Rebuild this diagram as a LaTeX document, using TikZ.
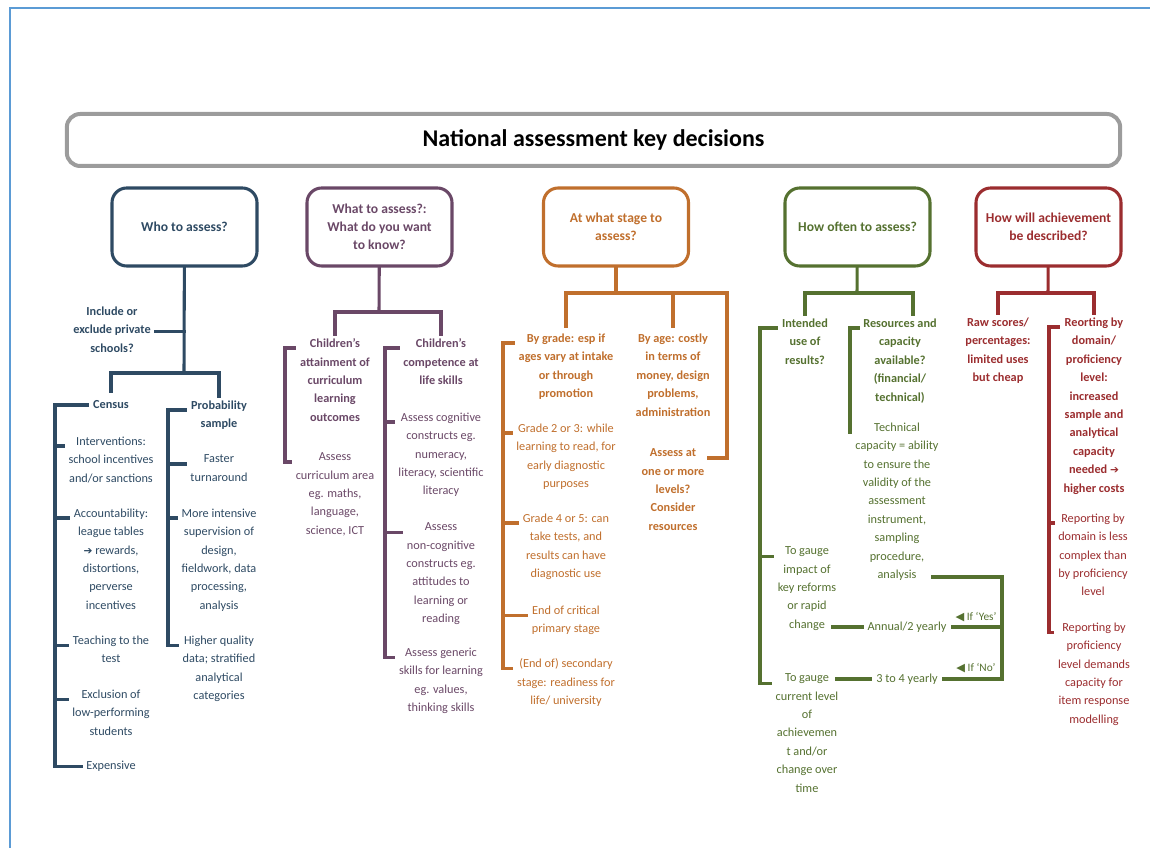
\documentclass[tikz,border=0pt]{standalone}
\usepackage{fontspec}
\setmainfont{Carlito}
\newfontfamily\symfont{DejaVu Sans}
\usetikzlibrary{calc}
\definecolor{cframe}{HTML}{5B9BD5}
\definecolor{ctitle}{HTML}{9C9C9C}
\definecolor{cblue}{HTML}{2E4A63}
\definecolor{cpurple}{HTML}{6A4867}
\definecolor{corange}{HTML}{C06F2D}
\definecolor{cgreen}{HTML}{557130}
\definecolor{cred}{HTML}{9B2D2F}
\newcommand{\arr}{{\symfont\fontsize{8}{10}\selectfont ➔}}
\newcommand{\tri}{{\symfont\fontsize{8.5}{10}\selectfont ◀}}
% tick from a bracket line to the first line of a node
\newcommand{\brtick}[3]{\draw[link=#1] ([shift={(-5,9.5)}]#3.north west) coordinate (t-#3) -- (t-#3 -| #2);}
\tikzset{
  every picture/.style={x=0.75pt, y=-0.75pt},
  titlebox/.style={draw=ctitle, line width=3pt, rounded corners=10pt, minimum width=790pt, minimum height=39pt, font=\fontsize{18}{22}\selectfont\bfseries},
  head/.style={draw=#1, text=#1, rounded corners=11pt, line width=2.3pt, minimum width=108.75pt, minimum height=58.5pt, align=center, font=\fontsize{10.2}{13.5}\selectfont\bfseries},
  item/.style={text=#1, align=center, inner sep=0pt, anchor=north, yshift=3.35pt, font=\fontsize{9.2}{13.8}\selectfont, execute at begin node=\strut},
  lead/.style={item=#1, font=\fontsize{9.2}{13.8}\selectfont\bfseries},
  one/.style={yshift=3.75pt},
  link/.style={draw=#1, line width=2.3pt, line cap=rect},
  note/.style={text=cgreen, inner sep=0pt, font=\fontsize{8.5}{10}\selectfont},
}
\begin{document}
\begin{tikzpicture}
  \useasboundingbox (0,0) rectangle (1150,848);
  \draw[cframe, line width=1.8pt] (10,848) -- (10,8) -- (1150,8);
  \node[titlebox] (title) at (593.5,140) {National assessment key decisions};

  % who to assess
  \node[head=cblue] (who) at (184.5,227) {Who to assess?};
  \node[lead=cblue] (incl) at (112,311) {Include or\\exclude private\\schools?};
  \node[lead=cblue, one] (cen) at (111,405) {Census};
  \node[item=cblue] (c1) at (111,441) {Interventions:\\school incentives\\and/or sanctions};
  \node[item=cblue] (c2) at (111,513) {Accountability:\\league tables\\\arr\ rewards,\\distortions,\\perverse\\incentives};
  \node[item=cblue] (c3) at (111,640) {Teaching to the\\test};
  \node[item=cblue] (c4) at (111,694) {Exclusion of\\low-performing\\students};
  \node[item=cblue, one] (c5) at (111,766) {Expensive};
  \node[lead=cblue] (prob) at (219,405) {Probability\\sample};
  \node[item=cblue] (p1) at (219,459) {Faster\\turnaround};
  \node[item=cblue] (p2) at (219,513) {More intensive\\supervision of\\design,\\fieldwork, data\\processing,\\analysis};
  \node[item=cblue] (p3) at (219,640) {Higher quality\\data; stratified\\analytical\\categories};
  \coordinate (whobar) at (184,373);
  \coordinate (cenbar) at (55,0);
  \coordinate (probbar) at (168,0);
  \draw[link=cblue] (who) -- (whobar);
  \draw[link=cblue] ([shift={(5,-1)}]incl.east) coordinate (t-incl) -- (t-incl -| whobar);
  \draw[link=cblue] ([yshift=3pt]cen.north) |- (whobar) -| ([yshift=3pt]prob.north);
  \foreach \n in {cen,c1,c2,c3,c4,c5} {\brtick{cblue}{cenbar}{\n}}
  \foreach \n in {prob,p1,p2,p3} {\brtick{cblue}{probbar}{\n}}
  \draw[link=cblue] (t-cen -| cenbar) -- (t-c5 -| cenbar);
  \draw[link=cblue] (t-prob -| probbar) -- (t-p3 -| probbar);

  % what to assess
  \node[head=cpurple] (what) at (379.5,227) {What to assess?:\\What do you want\\to know?};
  \node[lead=cpurple] (att) at (335,343) {Children’s\\attainment of\\curriculum\\learning\\outcomes};
  \node[item=cpurple] (a1) at (335,457) {Assess\\curriculum area\\eg. maths,\\language,\\science, ICT};
  \node[lead=cpurple] (comp) at (441,343) {Children’s\\competence at\\life skills};
  \node[item=cpurple] (m1) at (441,417) {Assess cognitive\\constructs eg.\\numeracy,\\literacy, scientific\\literacy};
  \node[item=cpurple] (m2) at (441,527) {Assess\\non-cognitive\\constructs eg.\\attitudes to\\learning or\\reading};
  \node[item=cpurple] (m3) at (441,652) {Assess generic\\skills for learning\\eg. values,\\thinking skills};
  \coordinate (whatbar) at (379,312);
  \coordinate (attbar) at (285,0);
  \coordinate (compbar) at (385,0);
  \draw[link=cpurple] (what) -- (whatbar);
  \draw[link=cpurple] ([yshift=3pt]att.north) |- (whatbar) -| ([yshift=3pt]comp.north);
  \foreach \n in {att,a1} {\brtick{cpurple}{attbar}{\n}}
  \foreach \n in {comp,m1,m2,m3} {\brtick{cpurple}{compbar}{\n}}
  \draw[link=cpurple] (t-att -| attbar) -- (t-a1 -| attbar);
  \draw[link=cpurple] (t-comp -| compbar) -- (t-m3 -| compbar);

  % at what stage
  \node[head=corange] (stage) at (616,227) {At what stage to\\assess?};
  \node[lead=corange] (grade) at (566,338) {By grade: esp if\\ages vary at intake\\or through\\promotion};
  \node[item=corange] (g1) at (566,428) {Grade 2 or 3: while\\learning to read, for\\early diagnostic\\purposes};
  \node[item=corange] (g2) at (566,518) {Grade 4 or 5: can\\take tests, and\\results can have\\diagnostic use};
  \node[item=corange] (g3) at (566,610) {End of critical\\primary stage};
  \node[item=corange] (g4) at (566,663) {(End of) secondary\\stage: readiness for\\life/ university};
  \node[lead=corange] (age) at (673,338) {By age: costly\\in terms of\\money, design\\problems,\\administration};
  \node[lead=corange] (levels) at (673,453) {Assess at\\one or more\\levels?\\Consider\\resources};
  \coordinate (stagebar) at (616,293);
  \coordinate (stageend) at (727,293);
  \coordinate (gradebar) at (503,0);
  \draw[link=corange] (stage) -- (stagebar);
  \draw[link=corange] ([yshift=5pt]grade.north) |- (stageend) |- ([shift={(4,9.5)}]levels.north east);
  \draw[link=corange] ([yshift=5pt]age.north) -- (age.north |- stagebar);
  \foreach \n in {grade,g1,g2,g3,g4} {\brtick{corange}{gradebar}{\n}}
  \draw[link=corange] (t-grade -| gradebar) -- (t-g4 -| gradebar);

  % how often
  \node[head=cgreen] (often) at (857.5,227) {How often to assess?};
  \node[lead=cgreen] (use) at (805,323) {Intended\\use of\\results?};
  \node[lead=cgreen] (res) at (900,323) {Resources and\\capacity\\available?\\(financial/\\technical)};
  \node[item=cgreen] (tech) at (897,427) {Technical\\capacity = ability\\to ensure the\\validity of the\\assessment\\instrument,\\sampling\\procedure,\\analysis};
  \node[item=cgreen] (impact) at (807,551) {To gauge\\impact of\\key reforms\\or rapid\\change};
  \node[item=cgreen] (gauge) at (807,678) {To gauge\\current level\\of\\achievemen\\t and/or\\change over\\time};
  \node[item=cgreen, one] (annual) at (907,627) {Annual/2 yearly};
  \node[item=cgreen, one] (four) at (907,679) {3 to 4 yearly};
  \node[note] (yes) at (976,617) {\tri\ If ‘Yes’};
  \node[note] (no) at (976,668) {\tri\ If ‘No’};
  \coordinate (oftenbar) at (857,293);
  \coordinate (usebar) at (760,0);
  \coordinate (resbar) at (850,0);
  \coordinate (techend) at (933,577);
  \coordinate (loopbot) at (1002,679);
  \draw[link=cgreen] (often) -- (oftenbar);
  \draw[link=cgreen] ([yshift=3pt]use.north) |- (oftenbar) -| ([shift={(13,-4)}]res.north);
  \foreach \n in {use,impact,gauge} {\brtick{cgreen}{usebar}{\n}}
  \foreach \n in {res,tech} {\brtick{cgreen}{resbar}{\n}}
  \draw[link=cgreen] (t-use -| usebar) -- (t-gauge -| usebar);
  \draw[link=cgreen] (t-res -| resbar) -- (t-tech -| resbar);
  \draw[link=cgreen] ([xshift=19pt]impact.south |- annual.west) -- ([xshift=-4pt]annual.west);
  \draw[link=cgreen] ([xshift=22pt]gauge.north |- four.west) -- ([xshift=-4pt]four.west);
  \draw[link=cgreen] (techend) -| (loopbot) -- ([xshift=4pt]four.east |- loopbot);
  \draw[link=cgreen] ([xshift=4pt]annual.east) -- (annual.east -| loopbot);

  % how described
  \node[head=cred] (how) at (1048.5,227) {How will achievement\\be described?};
  \node[lead=cred] (raw) at (998,322) {Raw scores/\\percentages:\\limited uses\\but cheap};
  \node[lead=cred] (rep) at (1094,322) {Reorting by\\domain/\\proficiency\\level:\\increased\\sample and\\analytical\\capacity\\needed \arr\\higher costs};
  \node[item=cred] (r1) at (1093,518) {Reporting by\\domain is less\\complex than\\by proficiency\\level};
  \node[item=cred] (r2) at (1094,627) {Reporting by\\proficiency\\level demands\\capacity for\\item response\\modelling};
  \coordinate (howbar) at (1048,293);
  \coordinate (repbar) at (1049,0);
  \draw[link=cred] (how) -- (howbar);
  \draw[link=cred] ([yshift=3pt]raw.north) |- (howbar) -| ([yshift=3pt]rep.north);
  \foreach \n in {rep,r1,r2} {\brtick{cred}{repbar}{\n}}
  \draw[link=cred] (t-rep -| repbar) -- (t-r2 -| repbar);
\end{tikzpicture}
\end{document}
